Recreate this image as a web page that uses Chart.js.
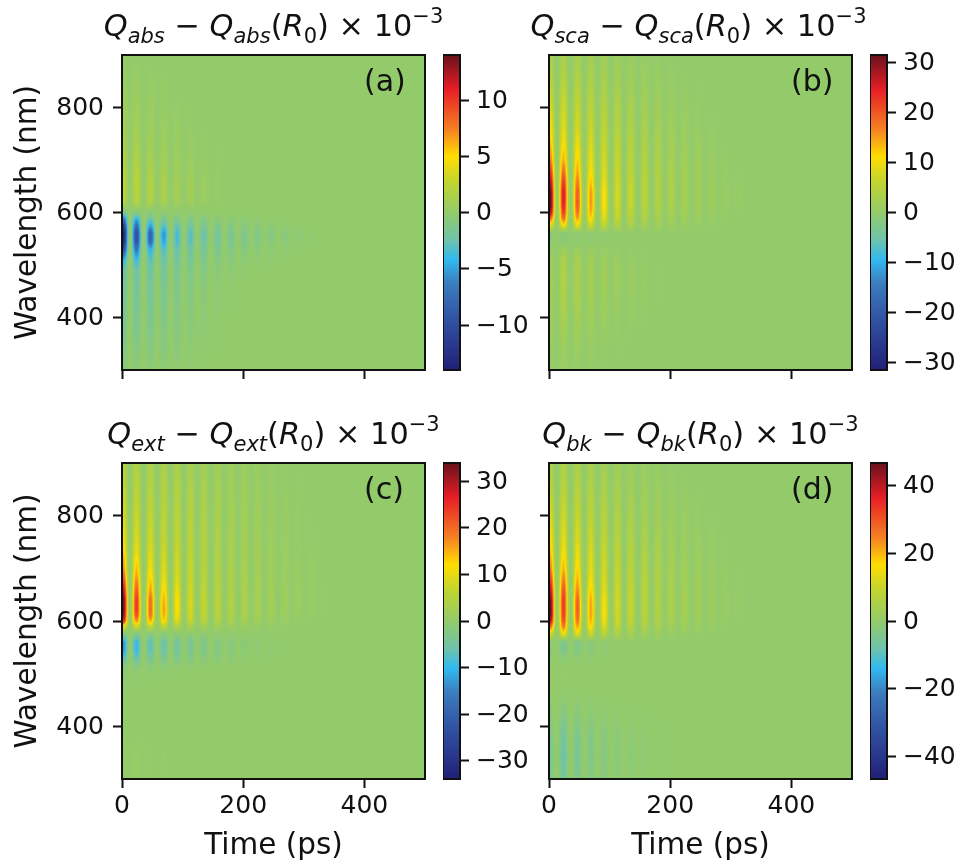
<!DOCTYPE html>
<html>
<head>
<meta charset="utf-8">
<script src="https://cdn.jsdelivr.net/npm/chart.js@4"></script>
<style>
  html, body { margin: 0; padding: 0; background: #fff; }
  #page { position: relative; width: 963px; height: 863px; overflow: hidden; font-family: "DejaVu Sans", sans-serif; color: #111; }
  canvas { position: absolute; }
  .title { position: absolute; white-space: nowrap; font-size: 30.4px; line-height: 34px; transform: translateX(-50%); }
  .title i { font-style: oblique; }
  .title sub { font-size: 21px; line-height: 0; vertical-align: -7px; }
  .title sup { font-size: 21px; line-height: 0; vertical-align: 13px; }
  .tag { position: absolute; font-size: 30px; line-height: 34px; }
</style>
</head>
<body>
<div id="page"></div>
<script>
// Peak times of the oscillation, and the wavelength of each matrix row
const peakTimes = [2, 24, 47, 69, 91, 113, 135, 158, 180, 202, 224, 246, 269, 291, 313, 335];
const wavelengths = [300, 340, 380, 420, 460, 490, 510, 530, 545, 560, 575, 590, 600, 610, 620, 640, 660, 680, 700, 730, 760, 800, 850, 900];

// One row per wavelength, one value per peak time. Short rows: the rest reads as 0.
const qAbs = [
  [-.6,-.5,-.4,-.3,-.2,-.1],
  [-1.2,-1,-.9,-.8,-.6,-.4,-.2,-.1],
  [-1.6,-1.5,-1.4,-1.1,-.9,-.6,-.4,-.2],
  [-1.9,-1.8,-1.7,-1.4,-1.1,-.8,-.5,-.3,-.1],
  [-2.2,-2.1,-2,-1.7,-1.3,-1,-.7,-.4,-.2],
  [-2.6,-2.4,-2.3,-2,-1.6,-1.3,-1,-.6,-.4,-.2],
  [-4.5,-4,-3,-2.5,-2.1,-1.8,-1.4,-1,-.7,-.5,-.3,-.2],
  [-10,-7,-4.5,-3.3,-2.7,-2.3,-1.9,-1.5,-1.2,-.9,-.6,-.4,-.3,-.1],
  [-13,-9.5,-8,-5,-3.6,-3,-2.5,-2,-1.6,-1.3,-1.1,-.8,-.6,-.4,-.2],
  [-13.8,-9.8,-8.5,-5.5,-3.7,-3.2,-2.6,-2.1,-1.7,-1.4,-1.2,-1,-.7,-.5,-.2],
  [-11,-7.5,-5,-3.2,-2.6,-2.1,-1.7,-1.3,-1,-.8,-.6,-.4,-.2,-.1],
  [-6,-4,-2,-1.5,-1,-1,-.8,-.5,-.4,-.3,-.2,-.1],
  [-1.5,-.8,-.5,-.3,-.2,-.2,-.1],
  [.5,.6,.5,.3,.2,.2,.1],
  [2,2,1.8,1.3,1,.8,.5,.3,.1],
  [2.6,2.4,2.2,1.6,1.2,1,.6,.3,.1],
  [2.5,2.4,2,1.5,1,.9,.5,.3,.1],
  [2.2,2.2,1.6,1.3,.9,.7,.4,.2,.1],
  [1.8,1.8,1.3,1,.7,.5,.3,.2,.1],
  [1.5,1.4,1,.8,.5,.3,.2,.1],
  [1.2,1.1,.8,.5,.4,.2,.1],
  [1,.8,.5,.3,.2,.1],
  [.5,.5,.3,.2],
  [.2]
];
const qSca = [
  [.5,.8,.6,.4,.2,.1],
  [1,1.5,1.2,.8,.5,.3,.2],
  [1.5,2.5,2,1.5,1,.6,.4,.2],
  [2,3.5,3,2.2,1.6,1,.8,.5,.2],
  [2.2,4,3.3,2.6,2,1.5,1,.7,.3],
  [2,4,3.2,2.5,2,1.5,1,.6,.3],
  [1.5,3.5,2.8,2.2,1.5,1.2,.7,.4,.2],
  [.5,1.5,1.2,1,.7,.5,.3,.2],
  [-1,-1,-.8,-.5,-.3,-.2],
  [-1.5,-1.5,-1,-.7,-.4,-.2],
  [8,10,9,7,6,4,3.5,2.5,2,1.5,1,.8,.5,.2],
  [20,19,15.5,12,9,6.5,5,4,3,2.5,2,1.5,1,.5,.2],
  [28,22,18,14,10,7,6,4.5,3.5,3,2.2,1.7,1.2,.7,.3],
  [31,24,19.5,15,11,7.5,6.5,5,4,3.5,2.5,2,1.5,.8,.4],
  [31.5,25,20,15.5,11.5,8,7,5.5,4.5,3.8,2.8,2.2,1.6,1,.5],
  [31,25,19.5,15,11,8,7,5.5,4.5,3.8,2.8,2.2,1.6,1,.5],
  [27,22,17,12.5,9.5,7.5,6.5,5.5,4.5,3.8,2.8,2.2,1.5,.8,.4],
  [22,18,14,10.5,8.5,7,6,5,4.2,3.5,2.6,2,1.3,.7,.3],
  [17,14,12,9.5,8,6.5,5.5,4.5,3.8,3,2.3,1.8,1,.5],
  [13,11,10,8,7,6,5,4,3.2,2.5,1.8,1.4,.7,.3],
  [11,9,8,7,6,5,4.2,3.3,2.6,2,1.3,.9,.4],
  [8,7.5,6.5,5.5,4.8,4,3.2,2.5,1.9,1.4,.9,.5,.2],
  [5,5,4.5,3.8,3.2,2.5,2,1.5,1.1,.7,.4,.2],
  [3,3,2.7,2.2,1.8,1.4,1,.7,.4,.2]
];
const qExt = [
  [.5,.8,.5,.3,.2,.1],
  [.5,.6,.4,.3,.2,.1],
  [.3,.3,.2,.1],
  [],
  [-.2],
  [-.3,-.3,-.2],
  [-1.5,-1.2,-1,-.8,-.5,-.3,-.2],
  [-8,-6.5,-4.5,-4,-3.3,-2.5,-2,-1.6,-1.2,-.7,-.4,-.2],
  [-13,-10,-7,-6,-5,-4,-3.2,-2.4,-1.8,-1.2,-.7,-.4,-.2],
  [-13,-10,-7,-6,-5,-4,-3.2,-2.4,-1.8,-1.2,-.7,-.4,-.2],
  [-3,-3,-2.2,-1.8,-1.3,-1,-.8,-.6,-.4,-.2,-.1],
  [10,8,7,6,4.5,3.5,3,2.5,1.7,1.2,.8,.6,.4,.2],
  [26,17,15,13,9.5,7,5.5,4.7,3.8,3,2.1,1.7,1,.6,.3],
  [31,22,19,15,11,8,6.5,5.5,4.3,3.4,2.7,2.1,1.5,1,.6,.2],
  [33,24,20,16,12,8.5,7,6,4.7,3.8,3,2.5,1.7,1.2,.8,.3],
  [33,24,19.5,15,12,8.5,7,6,4.7,3.8,3,2.5,1.7,1.2,.8,.3],
  [28,21,16,12.5,10.5,8,6.5,5.5,4.4,3.6,2.9,2.4,1.7,1.2,.8,.3],
  [22,17,13,10.5,9,7.5,6,5,4.2,3.4,2.7,2.2,1.5,1.1,.7,.2],
  [17,14,11,9.5,8.5,7,5.5,4.8,3.9,3.2,2.5,2,1.4,1,.6],
  [13.5,10.5,9.5,8,7.5,6.5,5.2,4.4,3.6,3,2.4,1.9,1.3,.8,.5],
  [11,9,8,7,6.8,6,5,4,3.2,2.7,2.2,1.7,1.1,.7,.4],
  [9,7.5,6.8,6,6,5.4,4.4,3.6,2.9,2.4,1.9,1.4,.9,.6,.3],
  [7,6,5.3,5,4.8,4.2,3.6,2.9,2.3,1.9,1.4,1,.7,.4,.2],
  [5,4.5,4,3.7,3.6,3.1,2.5,2.1,1.7,1.3,.9,.6,.3,.2]
];
const qBk = [
  [-4,-6.5,-4.5,-3,-2.2,-1.5,-1.1,-.7,-.4],
  [-5,-8,-5.5,-4,-3,-2.2,-1.6,-1.1,-.7,-.4],
  [-4,-7,-5,-3.7,-2.6,-1.8,-1.4,-.9,-.6,-.3],
  [-1.5,-3.5,-2.5,-1.8,-1.1,-.7,-.5,-.3],
  [0,-.5,-.3,-.2],
  [.5,.5,.3,.2],
  [.3],
  [-.5,-1.5,-1,-.8],
  [-1.5,-5,-4,-2.5,-1],
  [-1.5,-5,-4,-2.5,-1],
  [10,14,13,10,8,5,4,3,2.5,1.5,1,.7,.4,.2],
  [28,26,22,17,13,9,7.5,6,4.5,3.5,2.8,2,1.5,.7,.3],
  [40,30,26,20,15,10.5,9,7,5.5,4.5,3.3,2.5,1.8,1,.4],
  [45,32,28,21.5,16,11,9.5,7.5,6,5,3.6,2.8,2,1.2,.5],
  [46.5,33,29,22,16.5,11.5,10,8,6.5,5.2,4,3,2.2,1.4,.7],
  [45,33,28,21,15.5,11.5,10,8,6.5,5.2,4,3,2.2,1.4,.7],
  [39,30,24,17.5,13.5,11,9.5,8,6.3,5,3.8,2.9,2,1.2,.5],
  [32,25,20,15,12.5,10,9,7.5,6,4.8,3.5,2.7,1.8,1,.4],
  [25,20,17,13.5,11.5,9.5,8,6.8,5.5,4.3,3.2,2.4,1.5,.8,.3],
  [19,16,14.5,12,10.5,8.5,7.3,6,4.8,3.6,2.6,2,1.1,.5],
  [16,13.5,12,10.5,9,7.5,6.3,5,4,3,2.2,1.5,.8,.3],
  [12,11,10,8.5,7.5,6,5,4,3,2.3,1.6,1,.5],
  [8,8,7.5,6.5,5.5,4.5,3.5,2.7,2,1.3,.8,.4],
  [5,5.5,5,4.3,3.5,2.7,2,1.4,.9,.5,.2]
];

// Axis ticks
const timeTicks = [0, 200, 400];
const wavelengthTicks = [400, 600, 800];
const absTicks = [-10, -5, 0, 5, 10];
const scaTicks = [-30, -20, -10, 0, 10, 20, 30];
const extTicks = [-30, -20, -10, 0, 10, 20, 30];
const bkTicks = [-40, -20, 0, 20, 40];

// Colour map: position in -1..1, r, g, b
const colorStops = [
  [-1, 33, 32, 120], [-.66, 50, 85, 165], [-.45, 60, 125, 190], [-.3, 50, 185, 240],
  [-.174, 110, 195, 170], [0, 147, 203, 107], [.186, 190, 212, 50], [.356, 255, 222, 0],
  [.525, 245, 130, 35], [.78, 232, 30, 38], [1, 105, 18, 28]
];

const FONT = "'DejaVu Sans', sans-serif";
const INK = '#111';

function colorAt(n) {
  if (n <= -1) return colorStops[0].slice(1);
  for (let i = 1; i < colorStops.length; i++) {
    const a = colorStops[i - 1], b = colorStops[i];
    if (n <= b[0]) {
      const f = (n - a[0]) / (b[0] - a[0]);
      return [a[1] + (b[1] - a[1]) * f, a[2] + (b[2] - a[2]) * f, a[3] + (b[3] - a[3]) * f];
    }
  }
  return colorStops[colorStops.length - 1].slice(1);
}

function minusLabel(v) {
  return String(v).replace('-', '\u2212');
}

// Value at (time, wavelength). Rows are blended linearly, and each column
// falls off to the background colour halfway to the next peak.
function cellValue(rows, t, wl) {
  let r = 0;
  while (r < wavelengths.length - 2 && wl > wavelengths[r + 1]) r++;
  const fr = Math.min(1, Math.max(0, (wl - wavelengths[r]) / (wavelengths[r + 1] - wavelengths[r])));
  let c = 0, best = Infinity;
  peakTimes.forEach((p, i) => {
    if (Math.abs(p - t) < best) { best = Math.abs(p - t); c = i; }
  });
  const low = rows[r][c] || 0, high = rows[r + 1][c] || 0;
  const lobe = Math.cos(Math.PI * (t - peakTimes[c]) / 22.2);
  return (low + (high - low) * fr) * lobe * lobe;
}

const heatmapPlugin = {
  id: 'heatmap',
  beforeDatasetsDraw(chart) {
    const { ctx, chartArea: area, scales: { x, y } } = chart;
    const ds = chart.data.datasets[0];
    const w = Math.round(area.right - area.left), h = Math.round(area.bottom - area.top);
    const image = ctx.createImageData(w, h);
    for (let j = 0; j < h; j++) {
      const wl = y.getValueForPixel(area.top + j + 0.5);
      for (let i = 0; i < w; i++) {
        const t = x.getValueForPixel(area.left + i + 0.5);
        const v = t > 350 ? 0 : cellValue(ds.rows, t, wl);
        const rgb = colorAt(v / ds.limit);
        const k = (j * w + i) * 4;
        image.data[k] = rgb[0];
        image.data[k + 1] = rgb[1];
        image.data[k + 2] = rgb[2];
        image.data[k + 3] = 255;
      }
    }
    ctx.putImageData(image, area.left, area.top);
  }
};

const framePlugin = {
  id: 'frame',
  afterDraw(chart) {
    const { ctx, chartArea: a } = chart;
    ctx.save();
    ctx.strokeStyle = INK;
    ctx.lineWidth = 2;
    ctx.strokeRect(a.left, a.top, a.right - a.left, a.bottom - a.top);
    ctx.restore();
  }
};

function addCanvas(left, top, width, height) {
  const canvas = document.createElement('canvas');
  canvas.style.left = left + 'px';
  canvas.style.top = top + 'px';
  canvas.style.width = width + 'px';
  canvas.style.height = height + 'px';
  canvas.width = width;
  canvas.height = height;
  document.getElementById('page').appendChild(canvas);
  return canvas;
}

function fixedTicks(values) {
  return scale => { scale.ticks = values.map(v => ({ value: v })); };
}

function axisGrid() {
  return { drawOnChartArea: false, drawTicks: true, tickLength: 9, tickWidth: 2, tickColor: INK };
}

// Keep the plot box where it is, whatever the tick labels would ask for
function fixAxis(scale, width, height) {
  if (width) scale.width = width;
  if (height) scale.height = height;
  scale.paddingLeft = scale.paddingRight = scale.paddingTop = scale.paddingBottom = 0;
}

function drawPanel(p) {
  const marginLeft = 122, marginBottom = 85;
  const canvas = addCanvas(p.left - marginLeft, p.top - 4, marginLeft + p.width + 4, 4 + p.height + marginBottom);

  const cells = [];
  wavelengths.forEach((wl, r) => {
    peakTimes.forEach((t, c) => cells.push({ x: t, y: wl, v: p.rows[r][c] || 0 }));
  });

  new Chart(canvas, {
    type: 'scatter',
    data: { datasets: [{ data: cells, rows: p.rows, limit: p.limit, pointRadius: 0 }] },
    plugins: [heatmapPlugin, framePlugin],
    options: {
      animation: false,
      responsive: false,
      layout: { padding: { top: 4, right: 4, left: 0, bottom: 0 } },
      plugins: { legend: { display: false }, tooltip: { enabled: false } },
      scales: {
        x: {
          type: 'linear', min: 0, max: 500,
          grid: axisGrid(),
          border: { display: false },
          afterBuildTicks: fixedTicks(timeTicks),
          afterFit: s => fixAxis(s, 0, marginBottom),
          ticks: { display: p.showTime, color: INK, padding: 3, maxRotation: 0, font: { family: FONT, size: 25 } },
          title: { display: p.showTime, text: 'Time (ps)', color: INK, padding: { top: 2, bottom: 0 }, font: { family: FONT, size: 29.5 } }
        },
        y: {
          type: 'linear', min: 300, max: 900,
          grid: axisGrid(),
          border: { display: false },
          afterBuildTicks: fixedTicks(wavelengthTicks),
          afterFit: s => fixAxis(s, marginLeft, 0),
          ticks: { display: p.showWavelength, color: INK, padding: 9, labelOffset: 1, font: { family: FONT, size: 25 } },
          title: { display: p.showWavelength, text: 'Wavelength (nm)', color: INK, padding: { top: 11, bottom: 0 }, font: { family: FONT, size: 29.5 } }
        }
      }
    }
  });
}

function drawColorbar(p) {
  const barLeft = p.left + p.width + 18, barWidth = 17, margin = 75;
  const canvas = addCanvas(barLeft, p.top - 15, barWidth + margin, p.height + 30);
  const ctx = canvas.getContext('2d');
  const gradient = ctx.createLinearGradient(0, 15 + p.height, 0, 15);
  colorStops.forEach(s => gradient.addColorStop((s[0] + 1) / 2, `rgb(${s[1]},${s[2]},${s[3]})`));

  new Chart(canvas, {
    type: 'bar',
    data: {
      labels: [''],
      datasets: [{ data: [[-p.limit, p.limit]], backgroundColor: gradient, barPercentage: 1, categoryPercentage: 1 }]
    },
    plugins: [framePlugin],
    options: {
      animation: false,
      responsive: false,
      layout: { padding: { top: 15, bottom: 15 } },
      plugins: { legend: { display: false }, tooltip: { enabled: false } },
      scales: {
        x: { display: false },
        y: {
          position: 'right', min: -p.limit, max: p.limit,
          grid: axisGrid(),
          border: { display: false },
          afterBuildTicks: fixedTicks(p.ticks),
          afterFit: s => fixAxis(s, margin, 0),
          ticks: { color: INK, padding: 7, labelOffset: 1, callback: minusLabel, font: { family: FONT, size: 25 } }
        }
      }
    }
  });
}

function addTitle(p) {
  const title = document.createElement('div');
  title.className = 'title';
  title.style.left = (p.left + p.width / 2 + p.titleShift) + 'px';
  title.style.top = (p.top - 46) + 'px';
  title.innerHTML = `<i>Q<sub>${p.sub}</sub></i> \u2212 <i>Q<sub>${p.sub}</sub></i>(<i>R</i><sub>0</sub>) \u00d7 10<sup>\u22123</sup>`;
  document.getElementById('page').appendChild(title);

  const tag = document.createElement('div');
  tag.className = 'tag';
  tag.style.left = (p.left + p.width - 61) + 'px';
  tag.style.top = (p.top + 9) + 'px';
  tag.textContent = p.tag;
  document.getElementById('page').appendChild(tag);
}

const panels = [
  { rows: qAbs, sub: 'abs', tag: '(a)', limit: 14, ticks: absTicks, left: 122, top: 55, width: 303, height: 315, showTime: false, showWavelength: true, titleShift: 0 },
  { rows: qSca, sub: 'sca', tag: '(b)', limit: 31.5, ticks: scaTicks, left: 549, top: 55, width: 303, height: 315, showTime: false, showWavelength: false, titleShift: -2 },
  { rows: qExt, sub: 'ext', tag: '(c)', limit: 33.9, ticks: extTicks, left: 122, top: 463, width: 303, height: 316, showTime: true, showWavelength: true, titleShift: 0 },
  { rows: qBk, sub: 'bk', tag: '(d)', limit: 46.5, ticks: bkTicks, left: 549, top: 463, width: 303, height: 316, showTime: true, showWavelength: false, titleShift: 0 }
];

panels.forEach(p => {
  drawPanel(p);
  drawColorbar(p);
  addTitle(p);
});
</script>
</body>
</html>
